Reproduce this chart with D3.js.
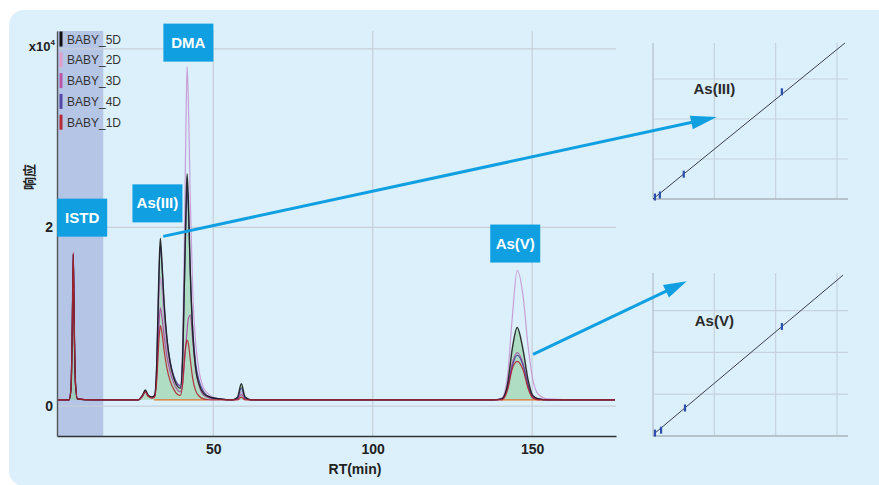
<!DOCTYPE html>
<html><head><meta charset="utf-8">
<script src="https://cdn.jsdelivr.net/npm/d3@7/dist/d3.min.js"></script>
<style>
html,body{margin:0;padding:0;background:#fff;}
svg{display:block;}
</style></head>
<body>
<svg id="c" width="879" height="485"></svg>
<script>
// ---------- DATA ----------
const seriesNames = ["BABY_5D","BABY_2D","BABY_3D","BABY_4D","BABY_1D"];
const rt = [1,4.8,5.4,5.8,6.1,6.4,6.8,7.4,12,20,26.5,27.8,28.7,29.6,30.8,31.6,32.3,32.9,33.4,33.9,34.6,35.5,36.5,37.6,38.8,39.7,40.4,41.0,41.5,41.8,42.2,42.8,43.6,44.5,45.6,47,49,52,56,57.6,58.8,60,62,80,100,120,138,140.5,142.3,143.8,145.3,147.2,148.7,150.2,152,155,165,176];
const baby5D = [0.07,0.07,0.2,0.9,1.7,0.9,0.25,0.08,0.07,0.07,0.07,0.12,0.18,0.12,0.1,0.12,0.5,1.4,1.88,1.62,1.15,0.75,0.48,0.32,0.22,0.2,0.55,1.5,2.3,2.6,2.3,1.5,0.8,0.42,0.24,0.14,0.1,0.08,0.07,0.1,0.25,0.1,0.07,0.07,0.07,0.07,0.07,0.08,0.25,0.65,0.88,0.62,0.3,0.12,0.08,0.07,0.07,0.07];
const baby2D = [0.07,0.07,0.2,0.9,1.68,0.9,0.25,0.08,0.07,0.07,0.07,0.11,0.16,0.12,0.1,0.11,0.4,1.1,1.45,1.3,0.95,0.65,0.45,0.32,0.24,0.24,0.7,2.0,3.3,3.8,3.4,2.3,1.25,0.7,0.38,0.2,0.12,0.08,0.07,0.08,0.16,0.09,0.07,0.07,0.07,0.07,0.07,0.09,0.35,1.0,1.52,1.22,0.68,0.3,0.13,0.08,0.07,0.07];
const baby3D = [0.07,0.07,0.2,0.9,1.7,0.9,0.25,0.08,0.07,0.07,0.07,0.11,0.16,0.11,0.1,0.11,0.35,0.85,1.1,1.0,0.78,0.55,0.38,0.26,0.18,0.16,0.25,0.5,0.72,0.85,0.98,1.02,0.72,0.4,0.22,0.12,0.09,0.08,0.07,0.08,0.13,0.08,0.07,0.07,0.07,0.07,0.07,0.08,0.22,0.48,0.6,0.47,0.24,0.11,0.08,0.07,0.07,0.07];
const baby4D = [0.07,0.07,0.2,0.9,1.7,0.9,0.25,0.08,0.07,0.07,0.07,0.12,0.17,0.12,0.1,0.12,0.48,1.35,1.8,1.58,1.12,0.74,0.5,0.34,0.25,0.22,0.5,1.4,2.15,2.45,2.2,1.5,0.85,0.48,0.28,0.16,0.1,0.08,0.07,0.09,0.2,0.09,0.07,0.07,0.07,0.07,0.07,0.08,0.2,0.45,0.57,0.45,0.23,0.1,0.08,0.07,0.07,0.07];
const baby1D = [0.07,0.07,0.2,0.92,1.72,0.92,0.25,0.08,0.07,0.07,0.07,0.11,0.16,0.11,0.09,0.1,0.3,0.7,0.9,0.82,0.62,0.42,0.28,0.19,0.13,0.12,0.25,0.55,0.7,0.74,0.7,0.52,0.3,0.17,0.11,0.08,0.07,0.07,0.07,0.07,0.1,0.07,0.07,0.07,0.07,0.07,0.07,0.07,0.18,0.42,0.5,0.4,0.2,0.09,0.07,0.07,0.07,0.07];
const xTicks = [50,100,150];
const yTickLabels = ["0","2"];
const yTicks = [0,2];
const yGrid = [0,2,4];
const shadedRange = [1,15.5];
const integrationSegments = [[31.5,48],[140,152.5]];
const integrationLevel = 0.07;
const peakLabels = ["ISTD","As(III)","DMA","As(V)"];
const peakLabelRT = [8.9,32.5,42.2,144.7];
const peakLabelY = [2.11,2.27,4.07,1.82];
// calibration insets
const calAsIIIConc = [0.03,0.11,0.5,2.1];
const calAsIIIResp = [0.05,0.1,0.62,2.68];
const calAsIIIFit = [[0,0],[3.13,3.9]];
const calAsVConc = [0.03,0.13,0.52,2.1];
const calAsVResp = [0.07,0.14,0.67,2.62];
const calAsVFit = [[0.016,0.05],[3.1,3.85]];
const calGrid = [0,1,2,3];

// ---------- STYLE ----------
const colors = {"BABY_5D":"#1b1b1b","BABY_2D":"#c596d2","BABY_3D":"#a8479f","BABY_4D":"#4b3f9e","BABY_1D":"#b1222f"};
const legendColors = {"BABY_5D":"#111","BABY_2D":"#e09ccb","BABY_3D":"#b957ab","BABY_4D":"#5547a8","BABY_1D":"#b52a35"};
const seriesData = {"BABY_5D":baby5D,"BABY_2D":baby2D,"BABY_3D":baby3D,"BABY_4D":baby4D,"BABY_1D":baby1D};
const boldFont = "'Liberation Sans Narrow','Arial Narrow','Liberation Sans',Arial,sans-serif";
const blue = "#10a0e2";

const svg = d3.select("#c");
// panel
svg.append("rect").attr("x",9).attr("y",10).attr("width",900).attr("height",476).attr("rx",15).attr("fill","#dcf0fb");

// ---------- MAIN PLOT ----------
const x = d3.scaleLinear().domain([1,176.3]).range([57,616]);
const y = d3.scaleLinear().domain([-0.335,4.2]).range([436,31]);

const g = svg.append("g");
// shaded region
g.append("rect").attr("x",x(shadedRange[0])).attr("y",y(4.2)).attr("width",x(shadedRange[1])-x(shadedRange[0])).attr("height",y(-0.335)-y(4.2)).attr("fill","#b5c5e6");

// gridlines
g.selectAll(".vg").data(xTicks).join("line").attr("x1",d=>x(d)).attr("x2",d=>x(d)).attr("y1",y(4.2)).attr("y2",y(-0.335)).attr("stroke","#c6cfd8").attr("stroke-width",1.2);
g.selectAll(".hg").data(yGrid).join("line").attr("x1",x(1)).attr("x2",x(176.3)).attr("y1",d=>y(d)).attr("y2",d=>y(d)).attr("stroke","#c6cfd8").attr("stroke-width",1.2);

// green fill under 5D
const pts5 = rt.map((r,i)=>[r,baby5D[i]]);
g.append("path").datum(pts5)
 .attr("d",d3.area().x(d=>x(d[0])).y0(y(integrationLevel)).y1(d=>y(Math.max(d[1],integrationLevel))).curve(d3.curveMonotoneX))
 .attr("fill","#8fd0a0").attr("fill-opacity",0.6);

// integration baselines
g.selectAll(".ib").data(integrationSegments).join("line")
 .attr("x1",d=>x(d[0])).attr("x2",d=>x(d[1])).attr("y1",y(integrationLevel)).attr("y2",y(integrationLevel))
 .attr("stroke","#e0702a").attr("stroke-width",1.2);

// traces
const line = d3.line().x(d=>x(d[0])).y(d=>y(d[1])).curve(d3.curveMonotoneX);
const drawOrder = ["BABY_2D","BABY_3D","BABY_4D","BABY_5D","BABY_1D"];
drawOrder.forEach(name=>{
  const pts = rt.map((r,i)=>[r,seriesData[name][i]]);
  g.append("path").datum(pts).attr("d",line).attr("fill","none")
   .attr("stroke",colors[name]).attr("stroke-width",name==="BABY_5D"?1.4:1.2).attr("stroke-opacity",0.9);
});

// axes
const xAxis = d3.axisBottom(x).tickValues(xTicks).tickSize(0).tickPadding(8);
const xa = g.append("g").attr("transform",`translate(0,${y(-0.335)})`).call(xAxis);
xa.select(".domain").attr("stroke","#333").attr("stroke-width",1.6);
xa.selectAll("text").attr("font-family",boldFont).attr("font-weight","bold").attr("font-size",14).attr("fill","#222");

const yAxis = d3.axisLeft(y).tickValues(yTicks).tickFormat((d,i)=>yTickLabels[i]).tickSize(0).tickPadding(4);
const ya = g.append("g").attr("transform",`translate(${x(1)},0)`).call(yAxis);
ya.select(".domain").attr("stroke","#555").attr("stroke-width",1.4);
ya.selectAll("text").attr("font-family",boldFont).attr("font-weight","bold").attr("font-size",14).attr("fill","#222");

// x10^4
const exp = g.append("text").attr("x",x(1)-2).attr("y",y(4)+2).attr("text-anchor","end")
 .attr("font-family",boldFont).attr("font-weight","bold").attr("font-size",13).attr("fill","#222");
exp.append("tspan").text("x10");
exp.append("tspan").text("4").attr("font-size",8).attr("dy",-6);

// axis titles
g.append("text").attr("x",355).attr("y",474).attr("text-anchor","middle").attr("font-family",boldFont).attr("font-weight","bold").attr("font-size",14).attr("fill","#222").text("RT(min)");
g.append("text").attr("transform","translate(34,177) rotate(-90)").attr("text-anchor","middle").attr("font-family","'Noto Sans CJK SC',sans-serif").attr("font-weight","bold").attr("font-size",13).attr("fill","#222").text("响应");

// legend
const lg = g.append("g");
seriesNames.forEach((n,i)=>{
  const cy = 39 + i*20.8;
  lg.append("rect").attr("x",59.5).attr("y",cy-7.5).attr("width",3).attr("height",15).attr("fill",legendColors[n]);
  lg.append("text").attr("x",67).attr("y",cy+4.5).attr("font-family","'Liberation Sans',Arial,sans-serif").attr("font-size",12).attr("fill","#333").text(n);
});

// peak label boxes
peakLabels.forEach((t,i)=>{
  const cx = x(peakLabelRT[i]), cy = y(peakLabelY[i]);
  g.append("rect").attr("x",cx-25).attr("y",cy-19).attr("width",50).attr("height",38).attr("fill",blue);
  g.append("text").attr("x",cx).attr("y",cy+5).attr("text-anchor","middle").attr("font-family",boldFont).attr("font-weight","bold").attr("font-size",15).attr("fill","#fff").text(t);
});

// ---------- INSETS ----------
function inset(xr, yr, conc, resp, fit, label, labelPos){
  const ix = d3.scaleLinear().domain([0,3.18]).range(xr);
  const iy = d3.scaleLinear().domain([0,3.9]).range(yr);
  const ig = svg.append("g");
  ig.selectAll(".gv").data(calGrid.slice(1)).join("line").attr("x1",d=>ix(d)).attr("x2",d=>ix(d)).attr("y1",iy(3.9)).attr("y2",iy(0)).attr("stroke","#c6d3de").attr("stroke-width",1.2);
  ig.selectAll(".gh").data(calGrid.slice(1)).join("line").attr("x1",ix(0)).attr("x2",ix(3.18)).attr("y1",d=>iy(d)).attr("y2",d=>iy(d)).attr("stroke","#c6d3de").attr("stroke-width",1.2);
  ig.append("line").attr("x1",ix(0)).attr("x2",ix(0)).attr("y1",iy(3.9)).attr("y2",iy(0)).attr("stroke","#b8c4ce").attr("stroke-width",1.4);
  ig.append("line").attr("x1",ix(0)).attr("x2",ix(3.18)).attr("y1",iy(0)).attr("y2",iy(0)).attr("stroke","#aab4bc").attr("stroke-width",1.6);
  ig.append("path").datum(fit).attr("d",d3.line().x(d=>ix(d[0])).y(d=>iy(d[1]))).attr("stroke","#3a3f48").attr("stroke-width",1).attr("fill","none");
  ig.selectAll(".pt").data(conc.map((c,i)=>[c,resp[i]])).join("rect")
    .attr("x",d=>ix(d[0])-1).attr("y",d=>iy(d[1])-3.5).attr("width",2.2).attr("height",7).attr("fill","#2a4fb0");
  ig.append("text").attr("x",ix(labelPos[0])).attr("y",iy(labelPos[1])).attr("text-anchor","middle").attr("font-family",boldFont).attr("font-weight","bold").attr("font-size",15).attr("fill","#2a2a2a").text(label);
  return {ix,iy};
}
const in1 = inset([653,848],[199,43],calAsIIIConc,calAsIIIResp,calAsIIIFit,"As(III)",[1.0,2.62]);
const in2 = inset([653,848],[436,273],calAsVConc,calAsVResp,calAsVFit,"As(V)",[1.0,2.64]);

// ---------- ARROWS ----------
function arrow(x1,y1,x2,y2,hl,hw){
  const dx=x2-x1, dy=y2-y1, L=Math.hypot(dx,dy), ux=dx/L, uy=dy/L;
  const bx=x2-hl*ux, by=y2-hl*uy, nx=-uy, ny=ux;
  svg.append("line").attr("x1",x1).attr("y1",y1).attr("x2",bx+ux*2).attr("y2",by+uy*2).attr("stroke",blue).attr("stroke-width",3);
  svg.append("path").attr("d",`M${x2},${y2}L${bx+hw*nx},${by+hw*ny}L${bx-hw*nx},${by-hw*ny}Z`).attr("fill",blue);
}
arrow(x(34.3),y(1.9),in1.ix(1.04),in1.iy(2.05),26,7);
arrow(x(150.3),y(0.58),in2.ix(0.55),in2.iy(3.7),23,7);
</script>
</body></html>
